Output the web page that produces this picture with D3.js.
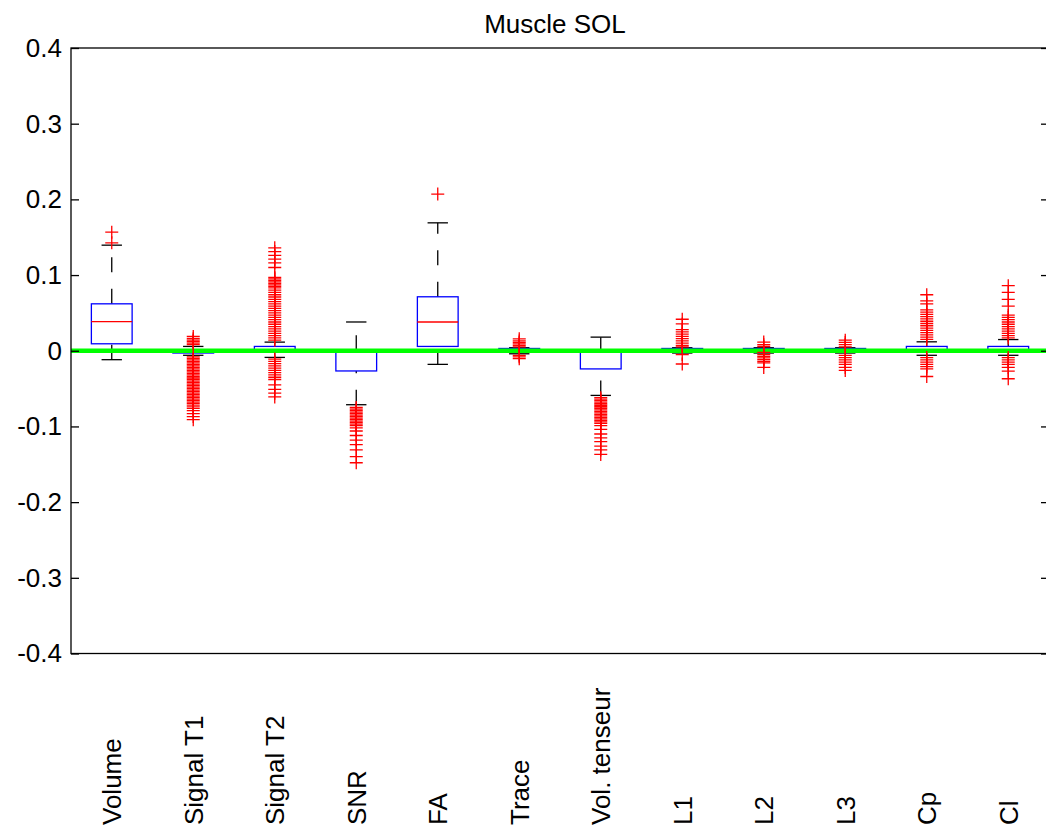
<!DOCTYPE html>
<html>
<head>
<meta charset="utf-8">
<script src="https://cdn.jsdelivr.net/npm/d3@7"></script>
<style>
  html, body { margin: 0; padding: 0; background: #fff; }
  svg { display: block; font-family: Arial, "Liberation Sans", Helvetica, sans-serif; }
</style>
</head>
<body>
<svg id="chart" width="1046" height="831"></svg>
<script>
// Relative differences per parameter, muscle SOL
const categories = ["Volume", "Signal T1", "Signal T2", "SNR", "FA", "Trace",
                    "Vol. tenseur", "L1", "L2", "L3", "Cp", "Cl"];

// Box statistics per category
const q1Values      = [0.0092, -0.003, -0.002, -0.0267, 0.0057, -0.002, -0.024, -0.002, -0.002, -0.002, -0.002, -0.002];
const medianValues  = [0.0385, -0.001, 0.001, -0.002, 0.038, 0.0005, -0.002, 0.0005, 0.0005, 0.0005, 0.001, 0.001];
const q3Values      = [0.062, 0.001, 0.0057, 0.0005, 0.0713, 0.003, 0.0005, 0.003, 0.003, 0.003, 0.0057, 0.0057];
const lowerWhisker  = [-0.0118, -0.006, -0.0088, -0.0713, -0.018, -0.004, -0.059, -0.003, -0.003, -0.003, -0.006, -0.006];
const upperWhisker  = [0.1395, 0.0057, 0.0114, 0.038, 0.169, 0.004, 0.018, 0.004, 0.004, 0.004, 0.0118, 0.0148];

// Outliers per category
const outliersVolume = [0.1426, 0.1566];
const outliersSignalT1 = [0.0188, 0.016, 0.014, 0.012, 0.010, 0.008,
  -0.008, -0.010, -0.012, -0.014, -0.016, -0.018, -0.020, -0.022, -0.024, -0.026, -0.028,
  -0.030, -0.032, -0.034, -0.036, -0.038, -0.040, -0.042, -0.044, -0.046, -0.048, -0.050,
  -0.052, -0.054, -0.056, -0.058, -0.060, -0.062, -0.064, -0.066, -0.068, -0.070, -0.073,
  -0.076, -0.079, -0.083, -0.087, -0.091];
const outliersSignalT2 = [0.136, 0.131, 0.126, 0.121, 0.116, 0.110,
  0.097, 0.095, 0.093, 0.091, 0.089, 0.087, 0.085, 0.083, 0.080, 0.077, 0.074, 0.071, 0.068,
  0.065, 0.062, 0.059, 0.056, 0.053, 0.050, 0.047, 0.044, 0.041, 0.038, 0.035, 0.032, 0.029,
  0.026, 0.023, 0.020, 0.017, 0.014,
  -0.011, -0.014, -0.017, -0.020, -0.023, -0.026, -0.029, -0.032, -0.035, -0.038,
  -0.045, -0.051, -0.056, -0.061];
const outliersSNR = [-0.075, -0.077, -0.079, -0.081, -0.083, -0.085, -0.087, -0.089, -0.091,
  -0.093, -0.095, -0.097, -0.099, -0.102, -0.106, -0.112, -0.118, -0.124, -0.131, -0.140, -0.148];
const outliersFA = [0.207];
const outliersTrace = [0.0157, 0.013, 0.011, 0.009, 0.007, 0.005, -0.006, -0.008, -0.0105];
const outliersVolTenseur = [-0.062, -0.064, -0.066, -0.068, -0.070, -0.072, -0.074, -0.076,
  -0.078, -0.080, -0.082, -0.084, -0.086, -0.088, -0.090, -0.092, -0.094, -0.096, -0.099,
  -0.104, -0.110, -0.115, -0.120, -0.126, -0.131, -0.137];
const outliersL1 = [0.0416, 0.0354, 0.028, 0.025, 0.022, 0.019, 0.016, 0.013, 0.010, 0.007, 0.005,
  -0.005, -0.0175];
const outliersL2 = [0.0114, 0.0079, 0.0055, -0.0022, -0.005, -0.0075, -0.0095, -0.0118, -0.014, -0.016, -0.022];
const outliersL3 = [0.014, 0.011, 0.008, 0.005, -0.006, -0.009, -0.012, -0.015, -0.018, -0.022, -0.026];
const outliersCp = [0.074, 0.066, 0.062, 0.054, 0.051, 0.048, 0.045, 0.042, 0.039, 0.036, 0.033,
  0.030, 0.027, 0.024, 0.021, 0.018, 0.015,
  -0.009, -0.012, -0.015, -0.018, -0.021, -0.024, -0.034];
const outliersCl = [0.086, 0.077, 0.068, 0.059, 0.047, 0.044, 0.041, 0.038, 0.035, 0.032, 0.029,
  0.026, 0.023, 0.020, 0.017,
  -0.009, -0.012, -0.015, -0.018, -0.022, -0.027, -0.037];

const outlierLists = [outliersVolume, outliersSignalT1, outliersSignalT2, outliersSNR, outliersFA,
  outliersTrace, outliersVolTenseur, outliersL1, outliersL2, outliersL3, outliersCp, outliersCl];

const yTicks = [0.4, 0.3, 0.2, 0.1, 0, -0.1, -0.2, -0.3, -0.4];
const yTickLabels = ["0.4", "0.3", "0.2", "0.1", "0", "-0.1", "-0.2", "-0.3", "-0.4"];
const referenceLevel = 0;
const title = "Muscle SOL";

// Layout
const plot = { left: 71, right: 1049, top: 48, bottom: 653.5 };
const fontSize = 26;

const svg = d3.select("#chart");

const x = d3.scaleLinear().domain([0.5, categories.length + 0.5]).range([plot.left, plot.right]);
const y = d3.scaleLinear().domain([-0.4, 0.4]).range([plot.bottom, plot.top]);

const unit = x(2) - x(1);
const boxHalf = unit * 0.25;
const capHalf = unit * 0.125;

const rows = categories.map((c, i) => ({
  name: c, pos: i + 1,
  q1: q1Values[i], med: medianValues[i], q3: q3Values[i],
  lo: lowerWhisker[i], hi: upperWhisker[i],
  out: outlierLists[i]
}));

const g = svg.append("g");

// Whiskers (dashed, drawn upward from the lower end)
g.selectAll(".whisker-up").data(rows).join("line")
  .attr("x1", d => x(d.pos)).attr("x2", d => x(d.pos))
  .attr("y1", d => y(d.q3)).attr("y2", d => y(d.hi))
  .attr("stroke", "#000").attr("stroke-width", 1.3).attr("stroke-dasharray", "15,16.5");
g.selectAll(".whisker-down").data(rows).join("line")
  .attr("x1", d => x(d.pos)).attr("x2", d => x(d.pos))
  .attr("y1", d => y(d.lo)).attr("y2", d => y(d.q1))
  .attr("stroke", "#000").attr("stroke-width", 1.3).attr("stroke-dasharray", "15,16.5");

// Whisker caps
["hi", "lo"].forEach(k => {
  g.selectAll(".cap-" + k).data(rows).join("line")
    .attr("x1", d => x(d.pos) - capHalf).attr("x2", d => x(d.pos) + capHalf)
    .attr("y1", d => y(d[k])).attr("y2", d => y(d[k]))
    .attr("stroke", "#000").attr("stroke-width", 1.3);
});

// Boxes
g.selectAll(".box").data(rows).join("rect")
  .attr("x", d => x(d.pos) - boxHalf).attr("width", boxHalf * 2)
  .attr("y", d => y(d.q3)).attr("height", d => Math.max(0.5, y(d.q1) - y(d.q3)))
  .attr("fill", "none").attr("stroke", "#0000ff").attr("stroke-width", 1.3);

// Medians
g.selectAll(".median").data(rows).join("line")
  .attr("x1", d => x(d.pos) - boxHalf).attr("x2", d => x(d.pos) + boxHalf)
  .attr("y1", d => y(d.med)).attr("y2", d => y(d.med))
  .attr("stroke", "#ff0000").attr("stroke-width", 1.3);

// Reference line at zero
svg.append("line")
  .attr("x1", plot.left).attr("x2", plot.right)
  .attr("y1", y(referenceLevel)).attr("y2", y(referenceLevel))
  .attr("stroke", "#00ff00").attr("stroke-width", 4.5);

// Outlier markers (+)
const outPts = rows.flatMap(d => d.out.map(v => ({ pos: d.pos, v })));
const m = 6.5;
svg.append("g").selectAll("path").data(outPts).join("path")
  .attr("d", d => {
    const cx = x(d.pos), cy = y(d.v);
    return `M${cx - m},${cy}H${cx + m}M${cx},${cy - m}V${cy + m}`;
  })
  .attr("stroke", "#ff0000").attr("stroke-width", 1.3).attr("fill", "none");

// Axes frame
svg.append("rect")
  .attr("x", plot.left).attr("y", plot.top)
  .attr("width", plot.right - plot.left).attr("height", plot.bottom - plot.top)
  .attr("fill", "none").attr("stroke", "#000").attr("stroke-width", 1.3);

// Y axis (ticks inside)
const yAxis = d3.axisLeft(y).tickValues(yTicks).tickSize(-8).tickPadding(9)
  .tickFormat((d, i) => yTickLabels[i]);
svg.append("g").attr("transform", `translate(${plot.left},0)`).call(yAxis)
  .call(a => a.select(".domain").remove())
  .call(a => a.selectAll("line").attr("stroke", "#000").attr("stroke-width", 1.3))
  .call(a => a.selectAll("text").attr("font-size", fontSize).attr("fill", "#000")
    .attr("font-family", "Arial, 'Liberation Sans', sans-serif"));

const yAxisRight = d3.axisRight(y).tickValues(yTicks).tickSize(-8).tickFormat("");
svg.append("g").attr("transform", `translate(${plot.right},0)`).call(yAxisRight)
  .call(a => a.select(".domain").remove())
  .call(a => a.selectAll("line").attr("stroke", "#000").attr("stroke-width", 1.3));

// Category labels, vertical, bottom aligned
svg.append("g").selectAll("text").data(rows).join("text")
  .attr("transform", d => `translate(${x(d.pos)},825) rotate(-90)`)
  .attr("dy", "0.36em")
  .attr("text-anchor", "start")
  .attr("font-size", fontSize)
  .attr("fill", "#000")
  .text(d => d.name);

// Title
svg.append("text")
  .attr("x", 555).attr("y", 33)
  .attr("text-anchor", "middle")
  .attr("font-size", fontSize)
  .attr("fill", "#000")
  .text(title);
</script>
</body>
</html>
